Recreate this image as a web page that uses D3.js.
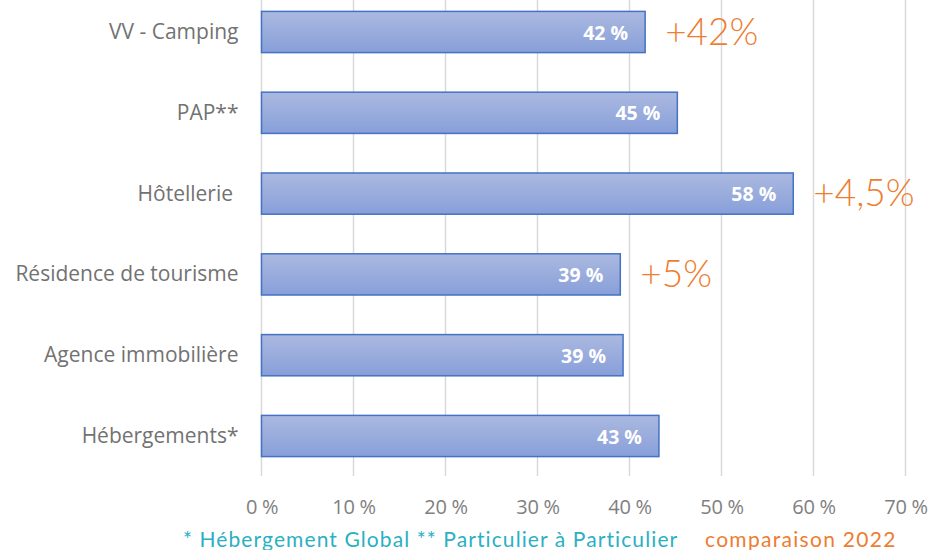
<!DOCTYPE html>
<html><head><meta charset="utf-8">
<script src="https://cdn.jsdelivr.net/npm/d3@7"></script>
<style>body{margin:0;background:#fff;}svg{display:block;}</style>
</head><body>
<svg id="c" width="931" height="550"></svg>
<script>
const categories = ["VV - Camping","PAP**","Hôtellerie ","Résidence de tourisme","Agence immobilière","Hébergements*"];
const values = [41.7, 45.2, 57.8, 39.0, 39.3, 43.2];
const valueLabels = ["42 %","45 %","58 %","39 %","39 %","43 %"];
const comparisons = [{cat:"VV - Camping", text:"+42%"},{cat:"Hôtellerie ", text:"+4,5%"},{cat:"Résidence de tourisme", text:"+5%"}];
const xTicks = [0,10,20,30,40,50,60,70];
const footnotes = ["* Hébergement Global  ** Particulier à Particulier", "comparaison 2022"];

const svg = d3.select("#c");
const x = d3.scaleLinear().domain([0,70]).range([261.5,905.5]);
const y = d3.scaleBand().domain(categories).range([-8.4,476.4]).paddingInner(0.49).paddingOuter(0.245);

const defs = svg.append("defs");
const g = defs.append("linearGradient").attr("id","bg").attr("x1",0).attr("y1",0).attr("x2",0).attr("y2",1);
g.append("stop").attr("offset","0%").attr("stop-color","#abb9e0");
g.append("stop").attr("offset","100%").attr("stop-color","#879fd9");

// gridlines
svg.append("g").selectAll("line").data(xTicks).join("line")
  .attr("x1",d=>x(d)).attr("x2",d=>x(d)).attr("y1",0).attr("y2",476)
  .attr("stroke","#d9d9d9").attr("stroke-width",1.5);

// x axis labels
const xa = svg.append("g").attr("transform","translate(0,476)")
  .call(d3.axisBottom(x).tickValues(xTicks).tickFormat(d=>d+" %").tickSize(0).tickPadding(0));
xa.select(".domain").remove();
xa.selectAll("text").attr("dy",null).attr("y",33).attr("dominant-baseline","middle")
  .attr("font-family","Open Sans, sans-serif").attr("font-size",20).attr("fill","#808080").style("letter-spacing","-0.3px");

// bars
svg.append("g").selectAll("rect").data(values).join("rect")
  .attr("x",x(0)).attr("y",(d,i)=>y(categories[i]))
  .attr("width",d=>x(d)-x(0)).attr("height",y.bandwidth())
  .attr("fill","url(#bg)").attr("stroke","#4472c4").attr("stroke-width",1.5);

// value labels
svg.append("g").selectAll("text").data(values).join("text")
  .attr("x",d=>x(d)-17).attr("y",(d,i)=>y(categories[i])+y.bandwidth()/2)
  .attr("text-anchor","end").attr("dominant-baseline","central")
  .attr("font-family","Open Sans, sans-serif").attr("font-weight","bold").attr("font-size",19.5)
  .attr("fill","#ffffff").text((d,i)=>valueLabels[i]);

// category labels
const ya = svg.append("g").attr("transform","translate(261.5,0)")
  .call(d3.axisLeft(y).tickSize(0).tickPadding(23));
ya.select(".domain").remove();
ya.selectAll("text").attr("dy",null).attr("y",-1).attr("dominant-baseline","central")
  .style("white-space","pre")
  .attr("font-family","Open Sans, sans-serif").attr("font-size",21).attr("fill","#727272");

// comparisons
svg.append("g").selectAll("text").data(comparisons).join("text")
  .attr("x",d=>x(values[categories.indexOf(d.cat)])+20)
  .attr("y",d=>y(d.cat)+y.bandwidth()/2-2)
  .attr("dominant-baseline","central")
  .attr("font-family","Lato, sans-serif").attr("font-weight",300).attr("font-size",37)
  .attr("fill","#ed7d31").text(d=>d.text);

// footnotes
svg.append("text").attr("x",183).attr("y",538).attr("dominant-baseline","central")
  .attr("font-family","Lato, sans-serif").attr("font-size",21).style("letter-spacing","1.1px")
  .attr("fill","#2bb0c3").text(footnotes[0]);
svg.append("text").attr("x",705).attr("y",538).attr("dominant-baseline","central")
  .attr("font-family","Lato, sans-serif").attr("font-size",21).style("letter-spacing","1.3px")
  .attr("fill","#ed7d31").text(footnotes[1]);
</script>
</body></html>
